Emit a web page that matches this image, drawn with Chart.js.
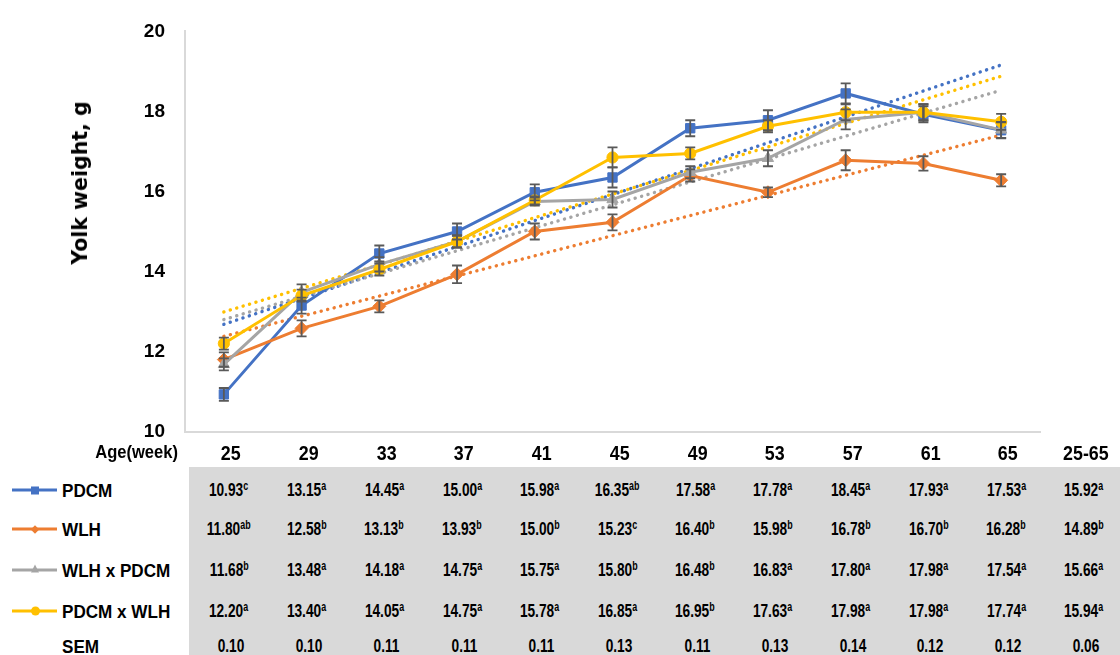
<!DOCTYPE html>
<html>
<head>
<meta charset="utf-8">
<script src="https://cdn.jsdelivr.net/npm/chart.js@4.4.1/dist/chart.umd.min.js"></script>
<style>
  html, body { margin: 0; padding: 0; }
  body {
    width: 1120px; height: 655px; background: #ffffff; position: relative; overflow: hidden;
    font-family: "Liberation Sans", Arial, sans-serif;
    font-weight: bold; color: #000;
  }
  #chartBox { position: absolute; left: 0; top: 0; width: 1120px; height: 463px; }
  #yTitle {
    position: absolute; left: 80px; top: 183px;
    transform: translate(-50%, -50%) rotate(-90deg);
    font-family: "DejaVu Sans", sans-serif; font-size: 20.5px; font-weight: bold; white-space: nowrap;
  }
  #tableBg { position: absolute; left: 189px; top: 467px; right: 0; bottom: 0; background: #d9d9d9; }
  .cell { position: absolute; width: 100px; text-align: center; transform: translate(-50%, -50%); white-space: nowrap; line-height: 1; }
  .cell span { display: inline-block; }
  .head { font-size: 21px; }
  .head span { transform: scaleX(0.85); }
  .val { font-size: 18.5px; }
  .val span { transform: scaleX(0.74); }
  .val sup { font-size: 12px; vertical-align: 6px; line-height: 0; }
  .rowName { position: absolute; left: 62px; transform: translateY(-50%) scaleX(0.9); transform-origin: left center; font-size: 19px; white-space: nowrap; line-height: 1; }
  #ageLabel { position: absolute; left: 178px; top: 452px; transform: translate(-100%, -50%) scaleX(0.92); transform-origin: right center; font-size: 18px; white-space: nowrap; line-height: 1; }
  .key { position: absolute; left: 12px; width: 45px; height: 3px; transform: translateY(-50%); }
  .mk { position: absolute; left: 23px; top: 50%; }
</style>
</head>
<body>
<div id="chartBox"><canvas id="yolk" width="1120" height="463"></canvas></div>
<div id="yTitle">Yolk weight, g</div>
<div id="tableBg"></div>
<div id="ageLabel">Age(week)</div>
<div id="table"></div>

<script>
// Hen age (weeks) and the overall-period column of the table
const weeks = ['25', '29', '33', '37', '41', '45', '49', '53', '57', '61', '65'];
const overallLabel = '25-65';

// Yolk weight means (g) per genotype
const pdcm     = [10.93, 13.15, 14.45, 15.00, 15.98, 16.35, 17.58, 17.78, 18.45, 17.93, 17.53];
const wlh      = [11.80, 12.58, 13.13, 13.93, 15.00, 15.23, 16.40, 15.98, 16.78, 16.70, 16.28];
const wlhXpdcm = [11.68, 13.48, 14.18, 14.75, 15.75, 15.80, 16.48, 16.83, 17.80, 17.98, 17.54];
const pdcmXwlh = [12.20, 13.40, 14.05, 14.75, 15.78, 16.85, 16.95, 17.63, 17.98, 17.98, 17.74];

// Overall means (25-65 weeks)
const pdcmOverall = 15.92, wlhOverall = 14.89, wlhXpdcmOverall = 15.66, pdcmXwlhOverall = 15.94;

// Significance letters (weeks 25..65, then 25-65)
const pdcmSig     = ['c', 'a', 'a', 'a', 'a', 'ab', 'a', 'a', 'a', 'a', 'a', 'a'];
const wlhSig      = ['ab', 'b', 'b', 'b', 'b', 'c', 'b', 'b', 'b', 'b', 'b', 'b'];
const wlhXpdcmSig = ['b', 'a', 'a', 'a', 'a', 'b', 'b', 'a', 'a', 'a', 'a', 'a'];
const pdcmXwlhSig = ['a', 'a', 'a', 'a', 'a', 'a', 'b', 'a', 'a', 'a', 'a', 'a'];

// Standard error of the mean per column
const sem = ['0.10', '0.10', '0.11', '0.11', '0.11', '0.13', '0.11', '0.13', '0.14', '0.12', '0.12', '0.06'];

// Error bar half-lengths (g) drawn on the chart
const pdcmErr     = [0.16, 0.20, 0.20, 0.20, 0.20, 0.25, 0.20, 0.25, 0.25, 0.20, 0.20];
const wlhErr      = [0.18, 0.20, 0.15, 0.22, 0.20, 0.20, 0.15, 0.12, 0.25, 0.18, 0.15];
const wlhXpdcmErr = [0.15, 0.20, 0.18, 0.15, 0.10, 0.20, 0.15, 0.20, 0.25, 0.20, 0.20];
const pdcmXwlhErr = [0.15, 0.15, 0.15, 0.15, 0.10, 0.25, 0.15, 0.15, 0.20, 0.20, 0.20];

// Linear trend line ends (g at week 25, g at week 65)
const pdcmTrend     = [12.68, 19.16];
const wlhTrend      = [12.38, 17.41];
const wlhXpdcmTrend = [12.80, 18.53];
const pdcmXwlhTrend = [12.99, 18.88];

const yTicks = [10, 12, 14, 16, 18, 20];

const FONT = '"Liberation Sans", Arial, sans-serif';

const series = [
  { name: 'PDCM',        data: pdcm,     overall: pdcmOverall,     sig: pdcmSig,     err: pdcmErr,     trend: pdcmTrend,     color: '#4472C4', style: 'rect',     radius: 6.6, order: 4 },
  { name: 'WLH',         data: wlh,      overall: wlhOverall,      sig: wlhSig,      err: wlhErr,      trend: wlhTrend,      color: '#ED7D31', style: 'rectRot',  radius: 6.5, order: 3 },
  { name: 'WLH x PDCM',  data: wlhXpdcm, overall: wlhXpdcmOverall, sig: wlhXpdcmSig, err: wlhXpdcmErr, trend: wlhXpdcmTrend, color: '#A5A5A5', style: 'triangle', radius: 6.5, order: 2 },
  { name: 'PDCM x WLH',  data: pdcmXwlh, overall: pdcmXwlhOverall, sig: pdcmXwlhSig, err: pdcmXwlhErr, trend: pdcmXwlhTrend, color: '#FFC000', style: 'circle',   radius: 5.6, order: 1 }
];

function trendData(ends) {
  const d = weeks.map(() => null);
  d[0] = ends[0];
  d[weeks.length - 1] = ends[1];
  return d;
}

const datasets = [];
series.forEach(s => {
  datasets.push({
    label: s.name,
    data: s.data,
    borderColor: s.color,
    backgroundColor: s.color,
    borderWidth: 3,
    pointStyle: s.style,
    pointRadius: s.radius,
    pointBorderWidth: 1,
    pointBackgroundColor: s.color,
    pointBorderColor: s.color,
    tension: 0,
    order: s.order,
    errorBars: s.err
  });
});
series.forEach(s => {
  datasets.push({
    label: s.name + ' trend',
    data: trendData(s.trend),
    borderColor: s.color,
    borderWidth: 3.4,
    borderDash: [0.1, 6.6],
    borderCapStyle: 'round',
    pointRadius: 0,
    spanGaps: true,
    tension: 0,
    order: 10 + s.order
  });
});

// Whiskers for the mean ± error of each genotype
const errorBarPlugin = {
  id: 'errorBars',
  afterDatasetsDraw(chart) {
    const ctx = chart.ctx;
    const yScale = chart.scales.y;
    ctx.save();
    ctx.strokeStyle = '#595959';
    ctx.lineWidth = 1.8;
    chart.data.datasets.forEach((ds, di) => {
      if (!ds.errorBars) return;
      const meta = chart.getDatasetMeta(di);
      meta.data.forEach((pt, i) => {
        const v = ds.data[i];
        const e = ds.errorBars[i];
        const yTop = yScale.getPixelForValue(v + e);
        const yBot = yScale.getPixelForValue(v - e);
        const x = pt.x;
        ctx.beginPath();
        ctx.moveTo(x, yTop); ctx.lineTo(x, yBot);
        ctx.moveTo(x - 5, yTop); ctx.lineTo(x + 5, yTop);
        ctx.moveTo(x - 5, yBot); ctx.lineTo(x + 5, yBot);
        ctx.stroke();
      });
    });
    ctx.restore();
  }
};

const chart = new Chart(document.getElementById('yolk'), {
  type: 'line',
  data: { labels: weeks, datasets: datasets },
  options: {
    responsive: false,
    animation: false,
    layout: { padding: { top: 19, right: 80, bottom: 10, left: 0 } },
    plugins: { legend: { display: false }, tooltip: { enabled: false } },
    scales: {
      x: {
        type: 'category',
        offset: true,
        grid: { display: false, drawTicks: false },
        border: { display: true, color: '#d9d9d9', width: 2 },
        ticks: { display: false },
        afterFit(scale) { scale.height = 0; }
      },
      y: {
        min: 10, max: 20,
        afterBuildTicks(scale) { scale.ticks = yTicks.map(v => ({ value: v })); },
        afterFit(scale) { scale.width = 185; },
        grid: { display: false, drawTicks: false },
        border: { display: true, color: '#d9d9d9', width: 2 },
        ticks: { color: '#000', padding: 20, font: { family: FONT, size: 19, weight: 'bold' } }
      }
    }
  },
  plugins: [errorBarPlugin]
});

// Data table below the plot: week header, one row per genotype, SEM row
(function buildTable() {
  const host = document.getElementById('table');
  const xs = chart.scales.x;
  const step = xs.getPixelForValue(1) - xs.getPixelForValue(0);
  const colX = weeks.map((w, i) => xs.getPixelForValue(i) + 7);
  colX.push(colX[colX.length - 1] + step);
  const headLabels = weeks.concat([overallLabel]);
  const rowY = [490, 529, 570, 611];
  const semY = 646;

  function addCell(cls, x, y, html) {
    const c = document.createElement('div');
    c.className = 'cell ' + cls;
    c.style.left = x + 'px';
    c.style.top = y + 'px';
    const sp = document.createElement('span');
    sp.innerHTML = html;
    c.appendChild(sp);
    host.appendChild(c);
  }

  headLabels.forEach((t, i) => addCell('head', colX[i], 452, t));

  series.forEach((s, r) => {
    // key: line with marker
    const key = document.createElement('div');
    key.className = 'key';
    key.style.top = rowY[r] + 'px';
    key.style.background = s.color;
    const mk = document.createElement('div');
    mk.className = 'mk';
    if (s.style === 'rect') {
      Object.assign(mk.style, { width: '8px', height: '8px', marginLeft: '-4px', marginTop: '-4px', background: s.color });
    } else if (s.style === 'rectRot') {
      Object.assign(mk.style, { width: '6px', height: '6px', marginLeft: '-3px', marginTop: '-3px', background: s.color, transform: 'rotate(45deg)' });
    } else if (s.style === 'triangle') {
      Object.assign(mk.style, { width: '0', height: '0', marginLeft: '-4.5px', marginTop: '-6px',
        borderLeft: '4.5px solid transparent', borderRight: '4.5px solid transparent', borderBottom: '8px solid ' + s.color });
    } else {
      Object.assign(mk.style, { width: '9px', height: '9px', marginLeft: '-4.5px', marginTop: '-4.5px', background: s.color, borderRadius: '50%' });
    }
    key.appendChild(mk);
    host.appendChild(key);

    const name = document.createElement('div');
    name.className = 'rowName';
    name.style.top = rowY[r] + 'px';
    name.textContent = s.name;
    host.appendChild(name);

    const vals = s.data.concat([s.overall]);
    vals.forEach((v, i) => addCell('val', colX[i] - 2, rowY[r], v.toFixed(2) + '<sup>' + s.sig[i] + '</sup>'));
  });

  const semName = document.createElement('div');
  semName.className = 'rowName';
  semName.style.top = semY + 'px';
  semName.textContent = 'SEM';
  host.appendChild(semName);
  sem.forEach((t, i) => addCell('val', colX[i], semY, t));
})();
</script>
</body>
</html>
